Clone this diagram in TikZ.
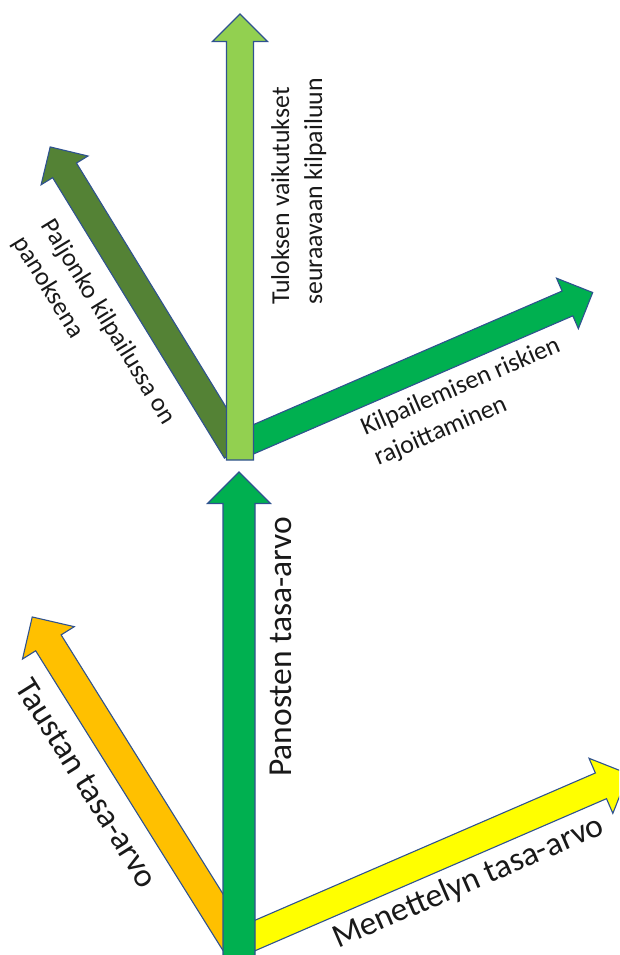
\documentclass[tikz,border=0pt]{standalone}
\usepackage{fontspec}
\setmainfont{Carlito}
\usepackage{xcolor}
\usepackage{tikz}

\definecolor{tulosgreen}{HTML}{92D050}
\definecolor{panosgreen}{HTML}{548235}
\definecolor{riskigreen}{HTML}{00B050}
\definecolor{taustaorange}{HTML}{FFC000}
\definecolor{menettelyyellow}{HTML}{FFFF00}
\definecolor{arrowblue}{HTML}{2F528F}

% colour, tail, angle, length, half shaft, half head
\newcommand{\blockarrow}[6]{%
  \filldraw[barrow,fill=#1,shift={#2},rotate=#3]
    (0,-#5) -- ({#4-#6},-#5) -- ({#4-#6},-#6) -- (#4,0)
    -- ({#4-#6},#6) -- ({#4-#6},#5) -- (0,#5) -- cycle;}

\begin{document}
\begin{tikzpicture}[
  x=1pt,y=-1pt,
  barrow/.style={draw=arrowblue,line width=1.1pt,line join=miter},
  lbl/.style={inner sep=0pt,align=left,text=black!90},
  small/.style={lbl,font=\fontsize{25.8}{33}\selectfont},
  big/.style={lbl,font=\fontsize{33.5}{38}\selectfont}
]
\useasboundingbox (0,0) rectangle (619,955);
\clip (0,0) rectangle (619,955);

% upper group
\blockarrow{panosgreen}{(236.4,450.8)}{121.5}{356.4}{14}{27.5}
\blockarrow{riskigreen}{(238,446)}{23.4}{386.5}{13.5}{27.5}
\blockarrow{tulosgreen}{(240,460)}{90}{446}{13.5}{27.5}

\node[small,rotate=90,anchor=north west] (tulos) at (271,305)
  {Tuloksen vaikutukset\\seuraavaan kilpailuun};
\node[small,rotate=-58.5,anchor=north west] (panos) at (56,216)
  {Paljonko kilpailussa on\\panoksena};
\node[small,rotate=23.4,anchor=north west] (riski) at (358,419)
  {Kilpailemisen riskien\\rajoittaminen};

% lower group
\blockarrow{taustaorange}{(235.4,942.1)}{122}{383.4}{15}{30.5}
\blockarrow{menettelyyellow}{(240,942)}{23.4}{423.3}{14}{30}
\blockarrow{riskigreen}{(239,962)}{90}{490}{16}{31.5}

\node[big,rotate=90,anchor=base west] (panosten) at (291.5,777)
  {Panosten tasa-arvo};
\node[big,rotate=-58,anchor=north west] (tausta) at (33,676)
  {Taustan tasa-arvo};
\node[big,rotate=23.4,anchor=base west] (menettely) at (338,949)
  {Menettelyn tasa-arvo};
\end{tikzpicture}
\end{document}
